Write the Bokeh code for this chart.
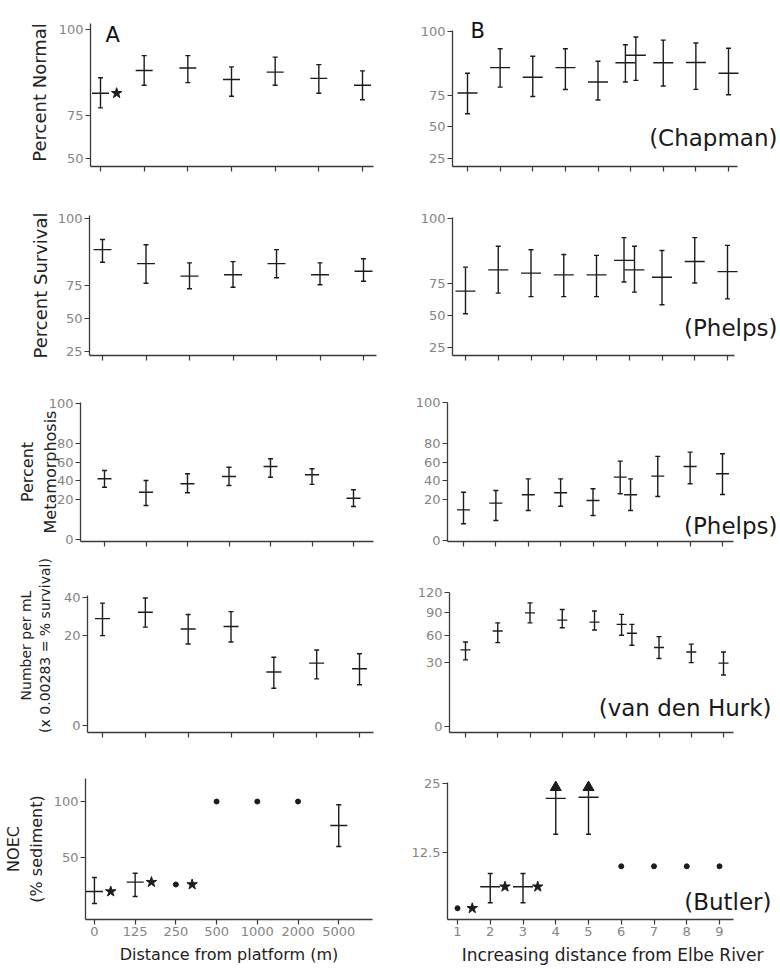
import math
from bokeh.plotting import figure
from bokeh.layouts import column, row
from bokeh.models import FixedTicker, Label, Range1d
from bokeh.embed import file_html
from bokeh.resources import INLINE

# ---------------- data ----------------
platform_labels = ["0", "125", "250", "500", "1000", "2000", "5000"]
elbe_labels = ["1", "2", "3", "4", "5", "6", "7", "8", "9"]
platform_sites = [1, 2, 3, 4, 5, 6, 7]
elbe_sites = [1, 2, 3, 4, 5, 6, 6, 7, 8, 9]      # station 6 tested twice
elbe_sites_butler = [1, 2, 3, 4, 5, 6, 7, 8, 9]

# Percent Normal
normal_A_mean = [85.7, 93.9, 94.6, 91.0, 93.4, 91.4, 88.9]
normal_A_lo = [78.9, 88.9, 89.9, 84.4, 88.9, 85.7, 82.8]
normal_A_hi = [91.6, 97.5, 97.5, 94.9, 97.2, 95.5, 93.8]
normal_A_star = [1, 0, 0, 0, 0, 0, 0]
normal_B_mean = [76.4, 91.4, 86.4, 91.4, 83.6, 93.5, 96.2, 93.5, 93.6, 88.6]
normal_B_lo = [60.6, 80.4, 73.9, 78.8, 71.4, 83.6, 84.6, 81.1, 78.9, 75.2]
normal_B_hi = [88.6, 98.0, 95.9, 98.0, 94.1, 98.8, 99.8, 99.5, 99.1, 98.1]

# Percent Survival
surv_A_mean = [94.1, 87.9, 80.8, 81.6, 87.9, 81.6, 83.7]
surv_A_lo = [88.6, 76.2, 72.4, 73.5, 79.8, 75.2, 77.5]
surv_A_hi = [97.3, 95.8, 88.3, 88.9, 94.1, 88.3, 90.3]
surv_B_mean = [69.1, 83.6, 81.6, 80.5, 80.5, 88.9, 83.6, 78.9, 88.3, 82.5]
surv_B_lo = [51.2, 67.6, 64.9, 64.9, 64.9, 75.7, 68.3, 58.5, 75.0, 63.1]
surv_B_hi = [85.2, 95.0, 93.7, 91.7, 91.3, 97.6, 95.0, 93.4, 97.6, 95.3]

# Percent Metamorphosis
meta_A_mean = [41.7, 27.0, 36.0, 44.2, 55.7, 46.2, 21.0]
meta_A_lo = [32.2, 14.6, 26.4, 34.1, 43.4, 35.3, 13.8]
meta_A_hi = [51.2, 39.6, 47.4, 54.9, 64.5, 53.1, 29.5]
meta_B_mean = [11.7, 17.0, 24.7, 26.7, 19.3, 43.6, 24.7, 44.7, 55.7, 47.4]
meta_B_lo = [3.6, 5.1, 11.2, 14.5, 7.9, 25.8, 11.2, 23.0, 36.2, 25.0]
meta_B_hi = [27.3, 29.0, 41.7, 41.7, 30.8, 61.7, 41.7, 66.9, 71.3, 69.7]

# Number per mL
num_A_mean = [28.2, 31.6, 23.1, 24.3, 7.2, 9.8, 8.1]
num_A_lo = [20.1, 24.0, 16.6, 17.4, 3.5, 5.5, 4.2]
num_A_hi = [36.7, 39.7, 30.4, 31.9, 11.7, 14.3, 12.9]
num_B_mean = [42.9, 65.0, 89.6, 79.4, 76.7, 73.7, 62.2, 45.4, 40.6, 29.7]
num_B_lo = [32.7, 50.9, 75.7, 69.3, 66.4, 59.8, 47.9, 34.1, 30.2, 19.8]
num_B_hi = [51.7, 75.7, 104.2, 94.4, 92.2, 87.4, 73.7, 58.0, 49.2, 40.6]

# NOEC (% sediment); None = single value without spread
noec_A_mean = [19.6, 28.0, 25.9, 100, 100, 100, 78.6]
noec_A_lo = [8.9, 15.2, None, None, None, None, 59.8]
noec_A_hi = [32.1, 36.0, None, None, None, None, 97.1]
noec_A_star = [1, 1, 1, 0, 0, 0, 0]
noec_B_mean = [2.4, 6.3, 6.3, 22.3, 22.5, 10.0, 10.0, 10.0, 10.0]
noec_B_lo = [None, 3.4, 3.4, 15.8, 15.8, None, None, None, None]
noec_B_hi = [None, 8.7, 8.7, 24.3, 24.3, None, None, None, None]
noec_B_star = [1, 1, 1, 0, 0, 0, 0, 0, 0]
noec_B_greater = [0, 0, 0, 1, 1, 0, 0, 0, 0]

# ---------------- styling / layout ----------------
FONT = "DejaVu Sans"
INK = "#1c1c1c"
AXIS = "#3a3a3a"
TICKTXT = "#858585"

# canvas boxes in page pixels (Bokeh's page template has no body margin)
ROW_Y = [(0, 190), (190, 370), (370, 550), (550, 756), (756, 968)]
COL_X = [(0, 390), (390, 778)]
# frames in one row share top and bottom (bottom = x-axis line)
ROW_FRAME = [(18, 166), (215, 355), (402, 541), (558, 732), (778, 919)]


def pct_t(v):
    return math.degrees(math.asin(math.sqrt(max(0.0, min(v, 100.0)) / 100.0)))


def num_t(v):
    return math.degrees(math.asin(math.sqrt(v * 0.00283)))


def lin_t(v):
    return v


def dodge(sites, w=0.16):
    out = []
    for i, s in enumerate(sites):
        n = sites.count(s)
        if n == 1:
            out.append(float(s))
        else:
            k = sites[:i].count(s)
            out.append(s + (k - (n - 1) / 2.0) * 2 * w)
    return out


def fmt(v):
    return str(int(v)) if float(v).is_integer() else str(v)


def panel(col, r, axes, xref, yref, tfun, yticks, xlabels, sites, mean, lo, hi,
          mean_w, cap_w=5, xframe=None, ylabel=None, ylabel_size="18px",
          ylabel_standoff=4, xlabel=None, xlabel_size="16px", show_xlabels=False,
          stars=None, star_dx=0.4, greater=None, note=None, note_xy=None,
          letter=None, letter_xy=None):
    L, R, T = axes                          # drawn axis extents
    FT, FB = ROW_FRAME[r]
    FL, FR = xframe if xframe else (L, R)
    x0, x1 = COL_X[col]
    y0, y1 = ROW_Y[r]
    (px1, vx1), (px2, vx2) = xref
    sx = (px2 - px1) / (vx2 - vx1)
    (py1, vy1), (py2, vy2) = yref
    t1, t2 = tfun(vy1), tfun(vy2)
    sy = (py2 - py1) / (t2 - t1)

    def X(px):
        return vx1 + (px - px1) / sx

    def Y(py):
        return t1 + (py - py1) / sy

    p = figure(width=x1 - x0, height=y1 - y0,
               x_range=Range1d(X(FL), X(FR)), y_range=Range1d(Y(FB), Y(FT)),
               output_backend="svg", toolbar_location=None,
               min_border_left=FL - x0, min_border_right=x1 - FR,
               min_border_top=FT - y0, min_border_bottom=y1 - FB)
    p.outline_line_color = None
    p.grid.visible = False
    p.background_fill_color = "white"
    p.border_fill_color = "white"

    # y axis
    tv = [tfun(v) for v in yticks]
    p.yaxis.ticker = FixedTicker(ticks=tv, minor_ticks=[])
    p.yaxis.major_label_overrides = {t: fmt(v) for t, v in zip(tv, yticks)}
    p.yaxis.bounds = (Y(FB), Y(T))
    # x axis
    n = len(xlabels)
    xt = list(range(1, n + 1))
    p.xaxis.ticker = FixedTicker(ticks=xt, minor_ticks=[])
    p.xaxis.bounds = (X(L), X(R))
    if show_xlabels:
        p.xaxis.major_label_overrides = {i: lab for i, lab in zip(xt, xlabels)}
    else:
        p.xaxis.major_label_overrides = {i: "" for i in xt}
        p.xaxis.major_label_text_font_size = "1px"
    for ax in (p.xaxis[0], p.yaxis[0]):
        ax.axis_line_color = AXIS
        ax.axis_line_width = 1.3
        ax.major_tick_line_color = AXIS
        ax.major_tick_line_width = 1.2
        ax.major_tick_in = 0
        ax.major_tick_out = 5
        ax.minor_tick_in = 0
        ax.minor_tick_out = 0
        ax.major_label_text_color = TICKTXT
        ax.major_label_text_font = FONT
        ax.major_label_standoff = 2
        ax.axis_label_text_font = FONT
        ax.axis_label_text_font_style = "normal"
        ax.axis_label_text_color = "#222222"
        ax.axis_label_standoff = 6
    p.yaxis.major_label_text_font_size = "13px"
    if show_xlabels:
        p.xaxis.major_label_text_font_size = "13px"
    if ylabel:
        p.yaxis.axis_label = ylabel
        p.yaxis.axis_label_text_font_size = ylabel_size
        p.yaxis.axis_label_standoff = ylabel_standoff
    if xlabel:
        p.xaxis.axis_label = xlabel
        p.xaxis.axis_label_text_font_size = xlabel_size

    xpos = dodge(sites)
    tm = [tfun(v) for v in mean]
    bars = [i for i in range(len(mean)) if lo[i] is not None]
    singles = [i for i in range(len(mean)) if lo[i] is None]
    if bars:
        bx = [xpos[i] for i in bars]
        blo = [tfun(lo[i]) for i in bars]
        bhi = [tfun(hi[i]) for i in bars]
        p.segment(x0=bx, y0=blo, x1=bx, y1=bhi, line_color=INK, line_width=1.4)
        p.scatter(x=bx, y=blo, marker="dash", size=cap_w, line_color=INK, line_width=1.4)
        capped = [i for i in bars if not (greater and greater[i])]
        p.scatter(x=[xpos[i] for i in capped], y=[tfun(hi[i]) for i in capped],
                  marker="dash", size=cap_w, line_color=INK, line_width=1.4)
        p.scatter(x=bx, y=[tm[i] for i in bars], marker="dash", size=mean_w,
                  line_color=INK, line_width=1.4)
    if singles:
        p.scatter(x=[xpos[i] for i in singles], y=[tm[i] for i in singles],
                  marker="circle", size=5, fill_color=INK, line_color=INK)
    if stars:
        si = [i for i in range(len(mean)) if stars[i]]
        p.scatter(x=[xpos[i] + star_dx for i in si], y=[tm[i] for i in si],
                  marker="star", size=11, fill_color=INK, line_color=INK)
    if greater:
        gi = [i for i in range(len(mean)) if greater[i]]
        p.scatter(x=[xpos[i] for i in gi], y=[tfun(hi[i]) for i in gi],
                  marker="triangle", size=11, fill_color=INK, line_color=INK)
    if note:
        p.add_layout(Label(x=X(note_xy[0]), y=Y(note_xy[1]), text=note, text_align="right",
                           text_baseline="middle", text_font=FONT,
                           text_font_size="23px", text_color="#1a1a1a"))
    if letter:
        p.add_layout(Label(x=X(letter_xy[0]), y=Y(letter_xy[1]), text=letter,
                           text_align="left", text_baseline="top", text_font=FONT,
                           text_font_size="21px", text_color="#111111"))
    return p


p1a = panel(0, 0, (90, 373, 23), ((100, 1), (362, 7)), ((29, 100), (158, 50)), pct_t,
            [100, 75, 50], platform_labels, platform_sites,
            normal_A_mean, normal_A_lo, normal_A_hi, 17,
            ylabel="Percent Normal", ylabel_standoff=6,
            stars=normal_A_star, star_dx=0.37, letter="A", letter_xy=(105, 22))
p1b = panel(1, 0, (452, 737, 30), ((467, 1), (728, 9)), ((31, 100), (158, 25)), pct_t,
            [100, 75, 50, 25], elbe_labels, elbe_sites,
            normal_B_mean, normal_B_lo, normal_B_hi, 20, xframe=(452, 777),
            note="(Chapman)", note_xy=(777, 137), letter="B", letter_xy=(470, 18))

p2a = panel(0, 1, (89, 376, 215), ((102, 1), (363, 7)), ((218, 100), (351, 25)), pct_t,
            [100, 75, 50, 25], platform_labels, platform_sites,
            surv_A_mean, surv_A_lo, surv_A_hi, 18, ylabel="Percent Survival",
            ylabel_standoff=4)
p2b = panel(1, 1, (452, 734, 217), ((465, 1), (727, 9)), ((218, 100), (347, 25)), pct_t,
            [100, 75, 50, 25], elbe_labels, elbe_sites,
            surv_B_mean, surv_B_lo, surv_B_hi, 20, xframe=(452, 777),
            note="(Phelps)", note_xy=(777, 327))

p3a = panel(0, 2, (80, 373, 402), ((104, 1), (353, 7)), ((403, 100), (539, 0)), pct_t,
            [100, 80, 60, 40, 20, 0], platform_labels, platform_sites,
            meta_A_mean, meta_A_lo, meta_A_hi, 14,
            ylabel="Percent\nMetamorphosis", ylabel_size="16px", ylabel_standoff=-14)
p3b = panel(1, 2, (447, 733, 402), ((463, 1), (722, 9)), ((402, 100), (540, 0)), pct_t,
            [100, 80, 60, 40, 20, 0], elbe_labels, elbe_sites,
            meta_B_mean, meta_B_lo, meta_B_hi, 13, xframe=(447, 777),
            note="(Phelps)", note_xy=(777, 525))

p4a = panel(0, 3, (87, 373, 595), ((102, 1), (359, 7)), ((597, 40), (725, 0)), num_t,
            [40, 20, 0], platform_labels, platform_sites,
            num_A_mean, num_A_lo, num_A_hi, 15,
            ylabel="Number per mL\n(x 0.00283 = % survival)", ylabel_size="14px",
            ylabel_standoff=8)
p4b = panel(1, 3, (449, 733, 592), ((465, 1), (723, 9)), ((592, 120), (726, 0)), num_t,
            [120, 90, 60, 30, 0], elbe_labels, elbe_sites,
            num_B_mean, num_B_lo, num_B_hi, 10, xframe=(449, 777),
            note="(van den Hurk)", note_xy=(771, 707))

p5a = panel(0, 4, (83, 372, 778), ((92, 1), (338, 7)), ((801, 100), (857, 50)), lin_t,
            [100, 50], platform_labels, platform_sites,
            noec_A_mean, noec_A_lo, noec_A_hi, 17,
            ylabel="NOEC\n(% sediment)", ylabel_size="16px", ylabel_standoff=5,
            xlabel="Distance from platform (m)", xlabel_size="16px", show_xlabels=True,
            stars=noec_A_star, star_dx=0.4)
p5b = panel(1, 4, (447, 733, 782), ((457, 1), (719, 9)), ((783, 25), (852, 12.5)), lin_t,
            [25, 12.5], elbe_labels, elbe_sites_butler,
            noec_B_mean, noec_B_lo, noec_B_hi, 20, xframe=(447, 777),
            xlabel="Increasing distance from Elbe River", xlabel_size="17px",
            show_xlabels=True, stars=noec_B_star, star_dx=0.45,
            greater=noec_B_greater, note="(Butler)", note_xy=(771, 901))

layout = column(row(p1a, p1b), row(p2a, p2b), row(p3a, p3b), row(p4a, p4b), row(p5a, p5b))

open("out.html", "w").write(file_html(layout, INLINE))
